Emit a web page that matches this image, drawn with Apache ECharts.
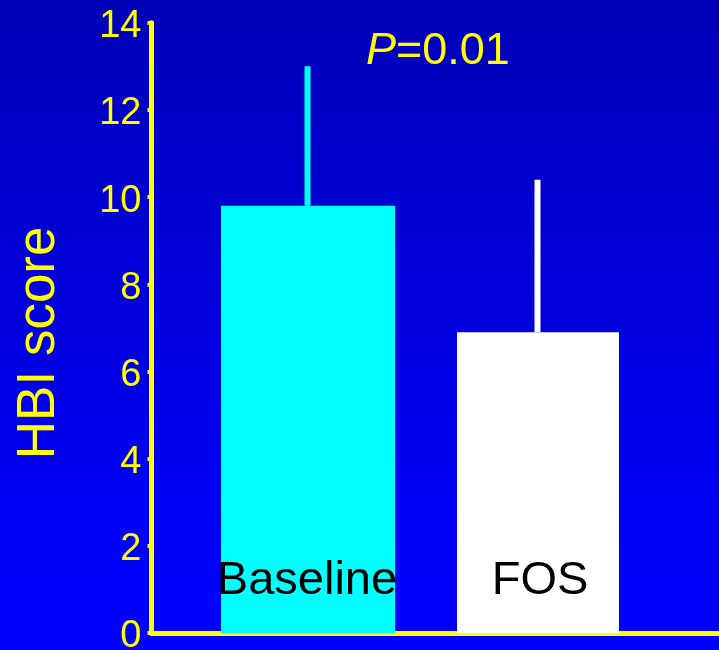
<!DOCTYPE html>
<html><head><meta charset="utf-8">
<script src="https://cdn.jsdelivr.net/npm/echarts@6/dist/echarts.min.js"></script>
<style>
html,body{margin:0;padding:0;}
#c{width:719px;height:650px;background:linear-gradient(to bottom,#0000b8 0%,#0000ff 90%,#0000ff 100%);}
</style>
</head><body><div id="c"></div>
<script>
// ---- data ----
const categories = ['Baseline', 'FOS'];
const meanScores = [9.8, 6.9];
const sdScores = [3.2, 3.5];
const yTickValues = [0, 2, 4, 6, 8, 10, 12, 14];
const pValueText = '0.01';

// ---- styles ----
const FONT = '"Liberation Sans", Arial, Helvetica, sans-serif';
const YELLOW = '#ffff00';
const barColors = ['#00ffff', '#ffffff'];
const barWidthFrac = [0.757, 0.704];

const chart = echarts.init(document.getElementById('c'), null, {renderer: 'canvas'});

function renderBar(params, api) {
  const idx = api.value(0);
  const v = api.value(1);
  const sd = api.value(2);
  const base = api.coord([idx, 0]);
  const top = api.coord([idx, v]);
  const errTop = api.coord([idx, v + sd]);
  const band = api.size([1, 0])[0];
  const w = band * barWidthFrac[idx];
  return {
    type: 'group',
    children: [
      {type: 'rect', shape: {x: base[0] - w / 2, y: top[1], width: w, height: base[1] - top[1]},
       style: {fill: barColors[idx]}},
      {type: 'line', shape: {x1: top[0] - 0.5, y1: top[1], x2: top[0] - 0.5, y2: errTop[1]},
       style: {stroke: barColors[idx], lineWidth: 6}},
      {type: 'text', x: base[0] + (idx === 0 ? -1 : 2), y: base[1] - 52,
       style: {text: categories[idx], fill: '#000000', fontSize: 47, fontFamily: FONT,
               align: 'center', verticalAlign: 'middle'}}
    ]
  };
}

const option = {
  backgroundColor: 'transparent',
  animation: false,
  title: {
    text: '{i|P}=' + pValueText,
    left: 361, top: 24,
    textStyle: {color: YELLOW, fontSize: 45, fontFamily: FONT, fontWeight: 'normal',
      rich: {i: {fontStyle: 'italic', color: YELLOW, fontSize: 45, fontFamily: FONT}}}
  },
  grid: [
    {left: 151.5, right: 0, top: 22.7, bottom: 17, containLabel: false, outerBoundsMode: 'none'},
    {left: 193, right: 66, top: 22.7, bottom: 17, containLabel: false, outerBoundsMode: 'none'}
  ],
  xAxis: [
    {gridIndex: 0, type: 'value', min: 0, max: 1,
     axisLine: {show: true, lineStyle: {color: YELLOW, width: 5}},
     axisTick: {show: false}, axisLabel: {show: false}, splitLine: {show: false}},
    {gridIndex: 1, type: 'category', data: categories, show: false}
  ],
  yAxis: [
    {gridIndex: 0, type: 'value', min: yTickValues[0], max: yTickValues[yTickValues.length - 1], interval: 2,
     name: 'HBI score', nameLocation: 'middle', nameGap: 86, nameRotate: 90,
     nameTextStyle: {color: YELLOW, fontSize: 53, fontFamily: FONT, padding: [0, 30, 0, 0]},
     axisLine: {show: true, lineStyle: {color: YELLOW, width: 5}},
     axisTick: {show: true, length: 4, lineStyle: {color: YELLOW, width: 4}},
     axisLabel: {margin: 10, formatter: function (v) { return '{t|' + v + '}'; },
       rich: {t: {color: YELLOW, fontSize: 38, fontFamily: FONT, padding: [8, 0, 0, 0]}}},
     splitLine: {show: false}},
    {gridIndex: 1, type: 'value', min: yTickValues[0], max: yTickValues[yTickValues.length - 1], show: false}
  ],
  series: [{
    type: 'custom',
    xAxisIndex: 1, yAxisIndex: 1,
    renderItem: renderBar,
    data: categories.map((c, i) => [i, meanScores[i], sdScores[i]]),
    z: 1
  }]
};
chart.setOption(option);
</script>
</body></html>
